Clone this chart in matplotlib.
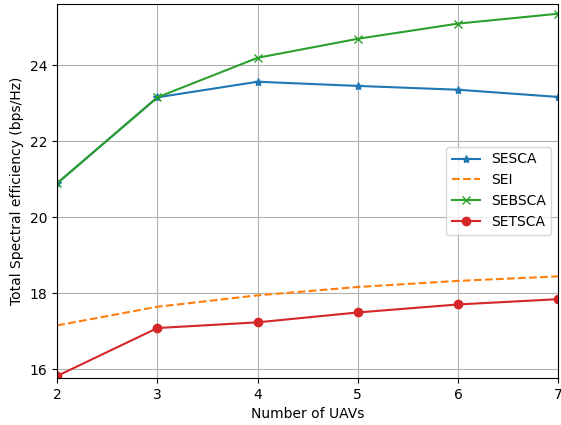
import matplotlib
matplotlib.use("Agg")
import matplotlib.pyplot as plt

# spectral efficiency vs. number of UAVs
num_uavs = [2, 3, 4, 5, 6, 7]
sesca = [20.90, 23.16, 23.57, 23.46, 23.36, 23.17]
sei = [17.16, 17.65, 17.95, 18.17, 18.33, 18.45]
sebsca = [20.90, 23.16, 24.20, 24.70, 25.10, 25.36]
setsca = [15.83, 17.09, 17.24, 17.50, 17.71, 17.85]

fig = plt.figure(figsize=(5.61, 4.25), dpi=100)
ax = fig.add_axes([0.102, 0.111, 0.893, 0.88])

ax.plot(num_uavs, sesca, marker='*', label='SESCA')
ax.plot(num_uavs, sei, linestyle='--', label='SEI')
ax.plot(num_uavs, sebsca, marker='x', label='SEBSCA')
ax.plot(num_uavs, setsca, marker='o', label='SETSCA')

ax.set_xlim(2, 7)
ax.set_ylim(15.78, 25.62)
ax.set_xlabel('Number of UAVs')
ax.set_ylabel('Total Spectral efficiency (bps/Hz)')
ax.grid(True)
ax.legend(loc='center right')

fig.savefig('out.png', dpi=100)
